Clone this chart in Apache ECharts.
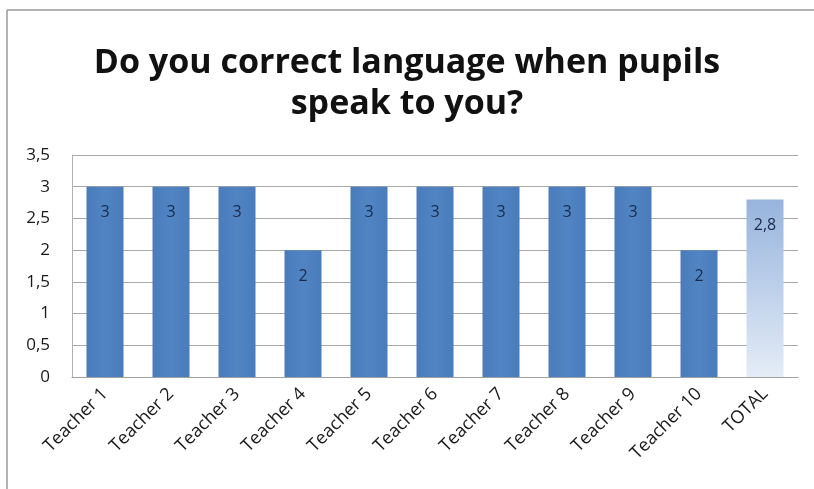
<!DOCTYPE html>
<html>
<head>
<meta charset="utf-8">
<script src="https://cdn.jsdelivr.net/npm/echarts@6/dist/echarts.min.js"></script>
<style>
  html, body { margin: 0; padding: 0; background: #fff; }
  #chart { width: 814px; height: 489px; }
</style>
</head>
<body>
<div id="chart"></div>
<script>
// Survey answers per teacher, plus the overall average
const categories = ['Teacher 1', 'Teacher 2', 'Teacher 3', 'Teacher 4', 'Teacher 5',
  'Teacher 6', 'Teacher 7', 'Teacher 8', 'Teacher 9', 'Teacher 10', 'TOTAL'];
const values = [3, 3, 3, 2, 3, 3, 3, 3, 3, 2, 2.8];
const yTicks = [0, 0.5, 1, 1.5, 2, 2.5, 3, 3.5];
const titleText = 'Do you correct language when pupils\nspeak to you?';

const fontFamily = 'Open Sans, Noto Sans, sans-serif';
const commaNum = v => String(v).replace('.', ',');

const teacherFill = new echarts.graphic.LinearGradient(0, 0, 1, 0, [
  { offset: 0, color: '#4a7cbb' },
  { offset: 0.5, color: '#5184c3' },
  { offset: 1, color: '#4a7cbb' }
]);
const totalFill = new echarts.graphic.LinearGradient(0, 0, 0, 1, [
  { offset: 0, color: '#97b4dc' },
  { offset: 1, color: '#e4ecf7' }
]);

const chart = echarts.init(document.getElementById('chart'), null, { renderer: 'canvas' });
chart.setOption({
  backgroundColor: '#ffffff',
  animation: false,
  title: {
    text: titleText,
    left: 'center',
    top: 38,
    textStyle: {
      fontFamily: fontFamily,
      fontWeight: 'bold',
      fontSize: 34,
      lineHeight: 41,
      color: '#111'
    }
  },
  graphic: [
    { type: 'line', shape: { x1: 7, y1: 10, x2: 814, y2: 10 }, style: { stroke: '#9a9a9a', lineWidth: 1.5 } },
    { type: 'line', shape: { x1: 7, y1: 10, x2: 7, y2: 489 }, style: { stroke: '#9a9a9a', lineWidth: 1.5 } }
  ],
  grid: { left: 72, right: 16, top: 155, bottom: 112 },
  xAxis: {
    type: 'category',
    data: categories,
    axisTick: { show: false },
    axisLine: { lineStyle: { color: '#a0a0a0', width: 1 } },
    axisLabel: {
      rotate: 45,
      interval: 0,
      margin: 14,
      fontFamily: fontFamily,
      fontSize: 18,
      color: '#1a1a1a'
    }
  },
  yAxis: {
    type: 'value',
    min: 0,
    max: 3.5,
    interval: 0.5,
    axisLine: { show: true, lineStyle: { color: '#b0b0b0' } },
    axisTick: { show: false },
    splitLine: { lineStyle: { color: '#a8a8a8', width: 1 } },
    axisLabel: {
      margin: 22,
      fontFamily: fontFamily,
      fontSize: 17,
      color: '#1a1a1a',
      formatter: v => yTicks.includes(v) ? commaNum(v) : ''
    }
  },
  series: [{
    type: 'bar',
    barWidth: 37,
    data: values.map((v, i) => ({
      value: v,
      itemStyle: { color: categories[i] === 'TOTAL' ? totalFill : teacherFill }
    })),
    label: {
      show: true,
      position: 'insideTop',
      distance: 18,
      fontFamily: fontFamily,
      fontSize: 16,
      color: '#1a2a4a',
      formatter: p => commaNum(p.value)
    }
  }]
});
</script>
</body>
</html>
